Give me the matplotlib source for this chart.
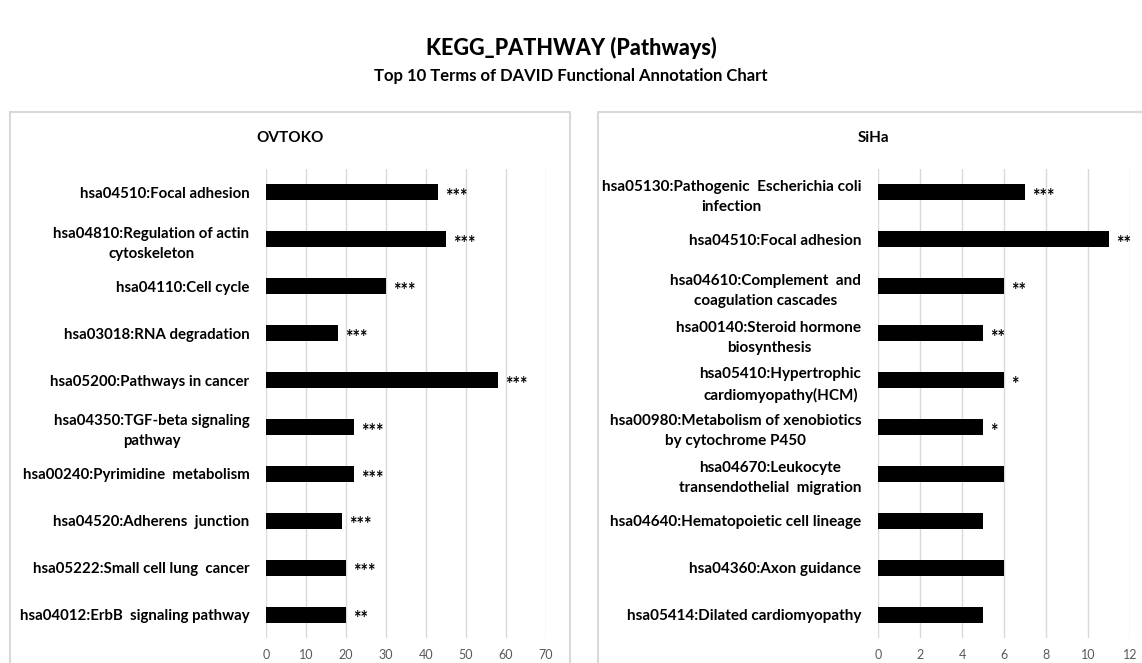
import matplotlib
matplotlib.use('Agg')
import matplotlib.pyplot as plt
from matplotlib.patches import Rectangle

plt.rcParams['font.family'] = ['Lato', 'DejaVu Sans']

W, H = 1142, 663

ovtoko_terms = [
    'hsa04510:Focal adhesion',
    'hsa04810:Regulation of actin\ncytoskeleton',
    'hsa04110:Cell cycle',
    'hsa03018:RNA degradation',
    'hsa05200:Pathways in cancer',
    'hsa04350:TGF-beta signaling\npathway',
    'hsa00240:Pyrimidine  metabolism',
    'hsa04520:Adherens  junction',
    'hsa05222:Small cell lung  cancer',
    'hsa04012:ErbB  signaling pathway',
]
ovtoko_counts = [43, 45, 30, 18, 58, 22, 22, 19, 20, 20]
ovtoko_stars = ['***', '***', '***', '***', '***', '***', '***', '***', '***', '**']
ovtoko_ticks = [0, 10, 20, 30, 40, 50, 60, 70]

siha_terms = [
    'hsa05130:Pathogenic  Escherichia coli\ninfection',
    'hsa04510:Focal adhesion',
    'hsa04610:Complement  and\ncoagulation cascades',
    'hsa00140:Steroid hormone\nbiosynthesis',
    'hsa05410:Hypertrophic\ncardiomyopathy(HCM)',
    'hsa00980:Metabolism of xenobiotics\nby cytochrome P450',
    'hsa04670:Leukocyte\ntransendothelial  migration',
    'hsa04640:Hematopoietic cell lineage',
    'hsa04360:Axon guidance',
    'hsa05414:Dilated cardiomyopathy',
]
siha_counts = [7, 11, 6, 5, 6, 5, 6, 5, 6, 5]
siha_stars = ['***', '**', '**', '**', '*', '*', '', '', '', '']
siha_ticks = [0, 2, 4, 6, 8, 10, 12]

GRID = '#d9d9d9'


def px_box(x0, x1, y0, y1):
    # pixel box (top-left origin) -> figure fraction rect
    return [x0 / W, 1 - y1 / H, (x1 - x0) / W, (y1 - y0) / H]


def draw_panel(ax, terms, counts, stars, ticks, fs):
    pos = list(range(len(terms)))
    ax.barh(pos, counts, height=0.34, color='black', zorder=3)
    for p, c, s in zip(pos, counts, stars):
        if s:
            ax.annotate(s, xy=(c, p), xytext=(5, -3), textcoords='offset points',
                        va='center', ha='left', fontsize=13, fontweight='bold')
    ax.set_ylim(len(terms) - 0.5, -0.5)
    ax.set_xlim(ticks[0], ticks[-1])
    ax.set_xticks(ticks)
    ax.set_yticks(pos)
    ax.set_yticklabels(terms, fontsize=fs, fontweight='bold')
    for lbl in ax.get_yticklabels():
        lbl.set_multialignment('center')
        lbl.set_linespacing(1.55)
    ax.tick_params(axis='y', length=0, pad=12)
    ax.tick_params(axis='x', length=0, pad=8, labelsize=9, labelcolor='#595959')
    ax.grid(axis='x', color=GRID, lw=1, zorder=0)
    for sp in ax.spines.values():
        sp.set_visible(False)


fig = plt.figure(figsize=(W / 100, H / 100), dpi=100)

# panel frames
fig.patches.append(Rectangle((10 / W, -0.05), 560 / W, 1 - 112 / H + 0.05,
                             transform=fig.transFigure, fill=False, ec=GRID, lw=1.5))
fig.patches.append(Rectangle((598 / W, -0.05), 0.6, 1 - 112 / H + 0.05,
                             transform=fig.transFigure, fill=False, ec=GRID, lw=1.5))

ax1 = fig.add_axes(px_box(266, 546, 169, 638))
draw_panel(ax1, ovtoko_terms, ovtoko_counts, ovtoko_stars, ovtoko_ticks, 10.8)

ax2 = fig.add_axes(px_box(878, 1130, 169, 638))
draw_panel(ax2, siha_terms, siha_counts, siha_stars, siha_ticks, 11)

fig.text(571 / W, 1 - 48 / H, 'KEGG_PATHWAY (Pathways)', ha='center', va='center',
         fontsize=15.5, fontweight='black')
fig.text(571 / W, 1 - 76 / H, 'Top 10 Terms of DAVID Functional Annotation Chart',
         ha='center', va='center', fontsize=12, fontweight='bold')
fig.text(290 / W, 1 - 138 / H, 'OVTOKO', ha='center', va='center',
         fontsize=11, fontweight='bold')
fig.text(874 / W, 1 - 138 / H, 'SiHa', ha='center', va='center',
         fontsize=11, fontweight='bold')

fig.savefig('out.png', dpi=100)
